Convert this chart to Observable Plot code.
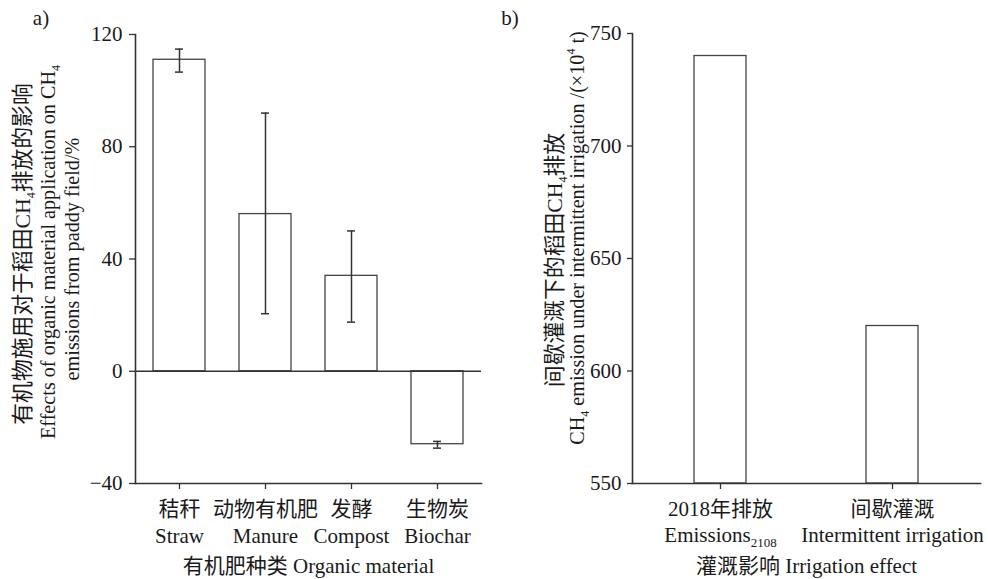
<!DOCTYPE html>
<html><head><meta charset="utf-8">
<script src="https://cdn.jsdelivr.net/npm/d3@7"></script>
<script src="https://cdn.jsdelivr.net/npm/@observablehq/plot@0.6"></script>
<style>
body{margin:0;background:#fff;}
#wrap{display:flex;width:988px;height:579px;}
svg{display:block;flex:none}
</style></head><body><div id="wrap"></div>
<script>
const FONT = '"Liberation Serif","Noto Sans CJK SC",serif';
const FS = 21;

// Panel a data
const materialsZh = ["秸秆", "动物有机肥", "发酵", "生物炭"];
const materialsEn = ["Straw", "Manure", "Compost", "Biochar"];
const effect = [111, 56, 34, -26];
const effectLow = [106.6, 20.5, 17.5, -27.4];
const effectHigh = [114.8, 92, 50, -25];
const yTicksA = [-40, 0, 40, 80, 120];
const yDomainA = [-40, 120];

// Panel b data
const irrigationZh = ["2018年排放", "间歇灌溉"];
const irrigationEn = ["Emissions2108", "Intermittent irrigation"];
const emission = [740, 620];
const yTicksB = [550, 600, 650, 700, 750];
const yDomainB = [550, 750];

const tableA = materialsEn.map((k, i) => ({key: k, zh: materialsZh[i], en: k, v: effect[i], lo: effectLow[i], hi: effectHigh[i]}));
const tableB = irrigationEn.map((k, i) => ({key: k, zh: irrigationZh[i], en: k, v: emission[i]}));

const INK = "#1a1a1a", LINE = "#333";

function richText(svg, x, y, parts, rotate, size) {
  const t = d3.select(svg).append("text")
    .attr("transform", `translate(${x},${y})` + (rotate ? " rotate(-90)" : ""))
    .attr("text-anchor", "middle").attr("dy", "0.33em")
    .attr("font-family", FONT).attr("font-size", size || 20).attr("fill", INK);
  let shift = 0;
  for (const [s, kind] of parts) {
    const sp = t.append("tspan").text(s);
    let target = kind === "sub" ? 5 : kind === "sup" ? -9 : 0;
    if (target !== shift) { sp.attr("dy", target - shift); shift = target; }
    if (kind) sp.attr("font-size", 12);
  }
  return t;
}

const plotA = Plot.plot({
  width: 495, height: 579, marginLeft: 135, marginRight: 14, marginTop: 34, marginBottom: 96,
  style: {fontFamily: FONT, fontSize: FS + "px", color: INK, background: "white", overflow: "visible"},
  x: {domain: materialsEn, paddingInner: 0.4, paddingOuter: 0.2, axis: null},
  y: {domain: yDomainA, axis: null},
  marks: [
    Plot.barY(tableA, {x: "key", y: "v", fill: "white", stroke: "#444", strokeWidth: 1.3}),
    Plot.ruleY([0], {stroke: LINE, strokeWidth: 1.6}),
    Plot.ruleX(tableA, {x: "key", y1: "lo", y2: "hi", stroke: LINE, strokeWidth: 1.5}),
    Plot.tickY(tableA, {x: "key", y: "lo", insetLeft: 22, insetRight: 22, stroke: LINE, strokeWidth: 1.5}),
    Plot.tickY(tableA, {x: "key", y: "hi", insetLeft: 22, insetRight: 22, stroke: LINE, strokeWidth: 1.5}),
    Plot.axisY({ticks: yTicksA, tickSize: 6, tickPadding: 7, fontSize: FS, label: null, stroke: LINE, strokeWidth: 1.3}),
    Plot.axisX({tickSize: 6, tickFormat: () => "", label: null, stroke: LINE, strokeWidth: 1.3}),
    Plot.frame({anchor: "left", stroke: LINE, strokeWidth: 1.6}),
    Plot.frame({anchor: "bottom", stroke: LINE, strokeWidth: 1.6}),
    Plot.text(tableA, {x: "key", text: "zh", frameAnchor: "bottom", lineAnchor: "bottom", dy: 32, fontSize: FS, fill: INK}),
    Plot.text(tableA, {x: "key", text: "en", frameAnchor: "bottom", lineAnchor: "bottom", dy: 59, fontSize: FS, fill: INK}),
    Plot.text(["有机肥种类 Organic material"], {frameAnchor: "bottom", lineAnchor: "bottom", dy: 89, fontSize: FS, fill: INK})
  ]
});

const plotB = Plot.plot({
  width: 493, height: 579, marginLeft: 137, marginRight: 8, marginTop: 33, marginBottom: 96,
  style: {fontFamily: FONT, fontSize: FS + "px", color: INK, background: "white", overflow: "visible"},
  x: {domain: irrigationEn, paddingInner: 0.7, paddingOuter: 0.358, axis: null},
  y: {domain: yDomainB, axis: null},
  marks: [
    Plot.barY(tableB, {x: "key", y1: yDomainB[0], y2: "v", fill: "white", stroke: "#444", strokeWidth: 1.3}),
    Plot.axisY({ticks: yTicksB, tickSize: 5, tickPadding: 6, fontSize: FS, label: null, stroke: LINE, strokeWidth: 1.3}),
    Plot.axisX({tickSize: 6, tickFormat: () => "", label: null, stroke: LINE, strokeWidth: 1.3}),
    Plot.frame({anchor: "left", stroke: LINE, strokeWidth: 1.6}),
    Plot.frame({anchor: "bottom", stroke: LINE, strokeWidth: 1.6}),
    Plot.text(tableB, {x: "key", text: "zh", frameAnchor: "bottom", lineAnchor: "bottom", dy: 32, fontSize: FS, fill: INK}),
    Plot.text(tableB, {x: "key", text: "en", frameAnchor: "bottom", lineAnchor: "bottom", dy: 58, fontSize: FS, fill: INK}),
    Plot.text(["灌溉影响 Irrigation effect"], {frameAnchor: "bottom", lineAnchor: "bottom", dy: 89, fontSize: FS, fill: INK})
  ]
});

// subscript for Emissions2108
d3.select(plotB).selectAll("text").filter(function () { return this.textContent === "Emissions2108"; })
  .each(function () {
    const t = d3.select(this); t.text("Emissions");
    t.append("tspan").attr("dy", 5).attr("font-size", 13).text("2108");
  });

// panel labels and y titles
d3.select(plotA).append("text").attr("x", 41).attr("y", 25).attr("font-family", FONT).attr("font-size", FS).attr("fill", INK).text("a)");
d3.select(plotB).append("text").attr("x", 15).attr("y", 25).attr("font-family", FONT).attr("font-size", FS).attr("fill", INK).text("b)");

richText(plotA, 23, 254, [["有机物施用对于稻田CH"], ["4", "sub"], ["排放的影响"]], true, 21.8);
richText(plotA, 48, 252, [["Effects of organic material application on CH"], ["4", "sub"]], true, 20.2);
richText(plotA, 72, 259, [["emissions from paddy field/%"]], true, 20.2);

richText(plotB, 60, 260, [["间歇灌溉下的稻田CH"], ["4", "sub"], ["排放"]], true, 21.8);
richText(plotB, 82, 238, [["CH"], ["4", "sub"], [" emission under intermittent irrigation /(×10"], ["4", "sup"], [" t)"]], true, 20.2);

document.getElementById("wrap").append(plotA, plotB);
</script></body></html>
